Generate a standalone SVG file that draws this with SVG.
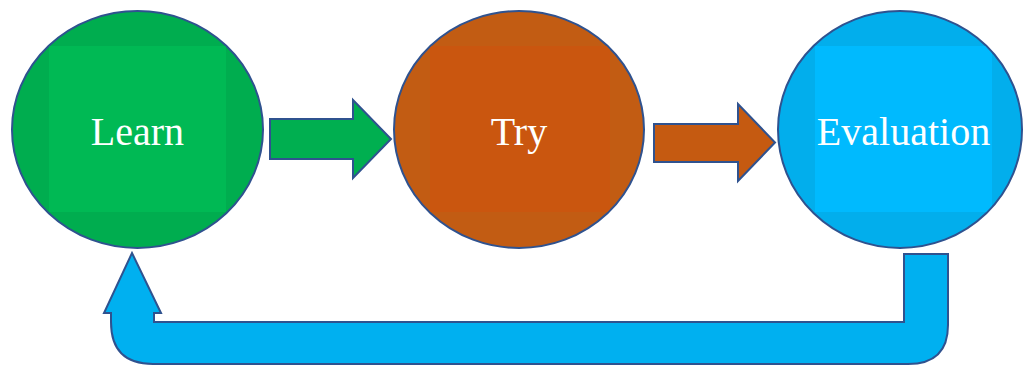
<svg xmlns="http://www.w3.org/2000/svg" width="1023" height="366" viewBox="0 0 1023 366">
<defs>
<style>
.ol{stroke:#2F528F;stroke-width:2;}
.lbl{font-family:"Liberation Serif","Times New Roman",serif;font-size:40px;fill:#FFFFFF;text-anchor:middle;}
</style>
<clipPath id="cl"><ellipse cx="137.5" cy="129.5" rx="124.5" ry="117.5"/></clipPath>
<clipPath id="ct"><ellipse cx="519" cy="129.5" rx="124" ry="117.5"/></clipPath>
<clipPath id="ce"><ellipse cx="900" cy="129.5" rx="121" ry="117.5"/></clipPath>
</defs>
<rect width="1023" height="366" fill="#FFFFFF"/>
<g id="connectors">
<path id="arrow-learn-try" class="ol" fill="#00AF50" d="M270,119 L353,119 L353,100 L391,139 L353,178 L353,159 L270,159 Z"/>
<path id="arrow-try-eval" class="ol" fill="#C55A11" d="M654,124 L738,124 L738,104 L775,142.5 L738,181 L738,162 L654,162 Z"/>
<path id="arrow-eval-learn" class="ol" fill="#00B0F0" d="M904,254 L948,254 L948,325 Q948,364 908,364 L153,364 Q111,364 111,322 L111,313 L104,313 L132,253 L161,313 L154,313 L154,322 L904,322 Z"/>
</g>
<g id="node-learn">
<ellipse class="ol" cx="137.5" cy="129.5" rx="125.5" ry="118.5" fill="#00AD4F"/>
<rect x="49" y="46" width="177" height="166" fill="#00B954" clip-path="url(#cl)"/>
<text class="lbl" x="137.5" y="145">Learn</text>
</g>
<g id="node-try">
<ellipse class="ol" cx="519" cy="129.5" rx="125" ry="118.5" fill="#C25C13"/>
<rect x="430" y="46" width="180" height="166" fill="#CA560F" clip-path="url(#ct)"/>
<text class="lbl" x="519" y="145">Try</text>
</g>
<g id="node-evaluation">
<ellipse class="ol" cx="900" cy="129.5" rx="122" ry="118.5" fill="#02AEEC"/>
<rect x="815" y="46" width="177" height="166" fill="#00BAFE" clip-path="url(#ce)"/>
<text class="lbl" x="903.5" y="145">Evaluation</text>
</g>
</svg>
